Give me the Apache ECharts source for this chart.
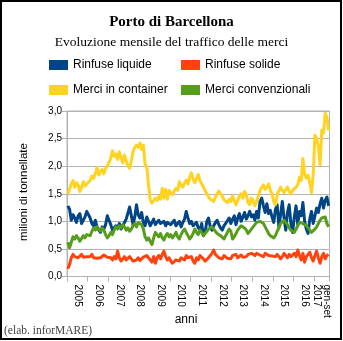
<!DOCTYPE html>
<html>
<head>
<meta charset="utf-8">
<script src="https://cdn.jsdelivr.net/npm/echarts@6/dist/echarts.min.js"></script>
<style>
  html, body { margin: 0; padding: 0; background: #fff; }
  #chart { width: 343px; height: 341px; }
</style>
</head>
<body>
<div id="chart"></div>
<script>
// Period labels on the x axis: one per calendar year, plus the partial 2017 (Jan-Sep)
const periodLabels = ['2005', '2006', '2007', '2008', '2009', '2010', '2011', '2012',
  '2013', '2014', '2015', '2016', 'gen-set\n2017'];
const monthsPerPeriod = [12, 12, 12, 12, 12, 12, 12, 12, 12, 12, 12, 12, 9];

// Monthly traffic, million tonnes
const rinfuseLiquide = [
  1.28, 1.22, 1.02, 1.12, 1.06, 0.98, 1.10, 1.14, 0.96, 0.94, 1.08, 1.18,
  1.16, 1.06, 0.96, 0.92, 1.02, 0.90, 0.84, 0.80, 0.90, 0.86, 0.94, 1.10,
  1.02, 0.94, 0.84, 0.82, 0.92, 0.88, 0.96, 0.86, 0.92, 0.98, 1.04, 1.02,
  1.26, 1.10, 0.94, 1.08, 1.30, 1.12, 1.06, 1.16, 0.98, 0.92, 1.08, 1.00,
  0.92, 0.98, 1.04, 0.94, 0.98, 1.02, 0.96, 0.94, 1.00, 0.92, 0.98, 0.96,
  0.94, 0.98, 1.02, 0.92, 0.96, 1.00, 0.90, 0.98, 1.04, 1.18, 1.06, 0.96,
  1.00, 0.92, 0.90, 0.98, 0.88, 0.84, 0.96, 0.74, 0.80, 1.00, 1.06, 0.90,
  0.84, 0.92, 0.98, 1.02, 0.94, 0.88, 0.84, 0.92, 0.96, 0.98, 1.06, 0.96,
  1.04, 1.10, 0.94, 1.06, 1.14, 1.00, 1.08, 1.16, 1.04, 1.10, 1.18, 1.08,
  1.12, 1.02, 1.18, 1.06, 1.36, 1.42, 1.28, 1.16, 1.32, 1.14, 1.20, 1.08,
  0.98, 1.22, 1.30, 0.90, 1.12, 1.36, 1.06, 0.84, 1.16, 1.30, 0.96, 0.80,
  1.08, 1.28, 0.94, 1.18, 1.10, 1.34, 1.00, 0.86, 0.78, 1.04, 1.18, 0.96,
  1.10, 1.24, 1.16, 1.32, 1.42, 1.24, 1.38, 1.44, 1.28
];

const rinfuseSolide = [
  0.14, 0.22, 0.34, 0.40, 0.36, 0.38, 0.34, 0.37, 0.40, 0.35, 0.33, 0.36,
  0.38, 0.36, 0.40, 0.34, 0.37, 0.33, 0.30, 0.34, 0.36, 0.39, 0.38, 0.35,
  0.38, 0.34, 0.30, 0.36, 0.32, 0.46, 0.34, 0.28, 0.32, 0.36, 0.30, 0.33,
  0.36, 0.32, 0.28, 0.26, 0.30, 0.34, 0.29, 0.31, 0.35, 0.33, 0.38, 0.34,
  0.30, 0.26, 0.36, 0.24, 0.34, 0.38, 0.32, 0.40, 0.46, 0.36, 0.30, 0.34,
  0.28, 0.24, 0.26, 0.30, 0.32, 0.28, 0.34, 0.36, 0.30, 0.38, 0.34, 0.32,
  0.36, 0.28, 0.24, 0.34, 0.30, 0.38, 0.36, 0.32, 0.28, 0.30, 0.34, 0.36,
  0.42, 0.48, 0.40, 0.38, 0.34, 0.36, 0.32, 0.38, 0.35, 0.33, 0.36, 0.32,
  0.38, 0.36, 0.40, 0.34, 0.37, 0.39, 0.35, 0.38, 0.36, 0.40, 0.38, 0.42,
  0.40, 0.38, 0.42, 0.44, 0.39, 0.41, 0.36, 0.42, 0.45, 0.38, 0.40, 0.37,
  0.34, 0.36, 0.40, 0.38, 0.32, 0.36, 0.42, 0.38, 0.34, 0.40, 0.36, 0.33,
  0.42, 0.36, 0.48, 0.38, 0.30, 0.42, 0.26, 0.36, 0.40, 0.44, 0.34, 0.28,
  0.38, 0.46, 0.34, 0.24, 0.36, 0.42, 0.32, 0.38, 0.40
];

const merciContainer = [
  1.50, 1.58, 1.68, 1.74, 1.62, 1.70, 1.66, 1.54, 1.62, 1.72, 1.64, 1.68,
  1.66, 1.74, 1.82, 1.78, 1.86, 1.98, 1.84, 1.90, 1.94, 1.86, 1.96, 2.00,
  1.98, 2.14, 2.28, 2.18, 2.22, 2.12, 2.26, 2.16, 2.06, 2.20, 2.10, 2.00,
  1.96, 2.10, 2.26, 2.34, 2.38, 2.34, 2.42, 2.30, 2.38, 2.04, 1.98, 1.66,
  1.40, 1.33, 1.36, 1.42, 1.38, 1.46, 1.40, 1.60, 1.42, 1.58, 1.40, 1.56,
  1.56, 1.48, 1.55, 1.60, 1.56, 1.72, 1.66, 1.62, 1.70, 1.75, 1.68, 1.80,
  1.88, 1.76, 1.70, 1.78, 1.85, 1.74, 1.68, 1.62, 1.56, 1.50, 1.44, 1.40,
  1.38, 1.36, 1.44, 1.50, 1.55, 1.52, 1.45, 1.39, 1.38, 1.34, 1.40, 1.36,
  1.46, 1.48, 1.30, 1.38, 1.46, 1.50, 1.42, 1.54, 1.48, 1.34, 1.30, 1.42,
  1.38, 1.28, 1.36, 1.46, 1.56, 1.62, 1.66, 1.58, 1.62, 1.68, 1.56, 1.50,
  1.36, 1.30, 1.48, 1.56, 1.62, 1.56, 1.52, 1.58, 1.62, 1.54, 1.50, 1.56,
  1.56, 1.62, 1.66, 1.80, 1.74, 2.14, 1.86, 1.78, 1.84, 1.70, 1.52, 1.84,
  2.56, 2.50, 2.36, 2.02, 2.65, 2.60, 2.96, 2.88, 2.65
];

const merciConvenzionali = [
  0.62, 0.52, 0.62, 0.72, 0.68, 0.74, 0.70, 0.64, 0.66, 0.74, 0.70, 0.76,
  0.78, 0.74, 0.82, 0.88, 0.84, 0.90, 0.86, 0.82, 0.88, 0.84, 0.76, 0.70,
  0.74, 0.80, 0.76, 0.84, 0.90, 0.86, 0.92, 0.88, 0.94, 0.90, 0.84, 0.88,
  0.82, 0.86, 0.92, 0.96, 0.90, 0.98, 1.00, 0.94, 0.86, 0.72, 0.66, 0.70,
  0.64, 0.58, 0.70, 0.80, 0.76, 0.72, 0.78, 0.70, 0.66, 0.74, 0.78, 0.72,
  0.76, 0.70, 0.74, 0.80, 0.72, 0.68, 0.76, 0.82, 0.86, 0.80, 0.74, 0.68,
  0.72, 0.78, 0.86, 0.80, 0.76, 0.84, 0.80, 0.74, 0.78, 0.82, 0.86, 0.84,
  0.90, 0.86, 0.84, 0.78, 0.80, 0.74, 0.72, 0.68, 0.74, 0.80, 0.86, 0.82,
  0.68, 0.72, 0.78, 0.84, 0.88, 0.92, 0.94, 0.88, 0.84, 0.78, 0.80, 0.86,
  0.90, 0.94, 0.98, 0.96, 1.00, 1.02, 0.96, 0.90, 0.84, 0.78, 0.74, 0.76,
  0.70, 0.74, 0.82, 0.88, 0.96, 0.98, 1.02, 0.98, 0.94, 0.88, 0.84, 0.86,
  0.80, 0.86, 0.92, 0.98, 1.00, 0.96, 0.98, 0.92, 0.88, 0.84, 0.80, 0.82,
  0.86, 0.90, 0.96, 1.02, 1.06, 1.04, 1.08, 0.96, 0.90
];

const seriesNames = ['Rinfuse liquide', 'Rinfuse solide', 'Merci in container', 'Merci convenzionali'];
const seriesColors = ['#004586', '#ff420e', '#ffd320', '#579d1c'];
const seriesData = [rinfuseLiquide, rinfuseSolide, merciContainer, merciConvenzionali];

// One category per month; period boundaries get a tick, the middle month of each period a label
const months = [];
const boundaryIdx = {};
const labelIdx = {};
periodLabels.forEach(function (lab, p) {
  const start = months.length;
  boundaryIdx[start] = true;
  labelIdx[start + Math.floor(monthsPerPeriod[p] / 2)] = lab;
  for (let m = 0; m < monthsPerPeriod[p]; m++) {
    months.push(lab.replace('\n', ' ') + '-' + (m + 1));
  }
});

const SANS = 'Liberation Sans, Arial, sans-serif';
const SERIF = 'Liberation Serif, Times New Roman, serif';
const GRIDC = '#b3b3b3';

const chart = echarts.init(document.getElementById('chart'), null, { renderer: 'canvas' });

chart.setOption({
  animation: false,
  backgroundColor: '#fff',
  title: [
    {
      text: 'Porto di Barcellona', left: 'center', top: 15, padding: 0,
      textStyle: { fontFamily: SERIF, fontWeight: 'bold', fontSize: 15, color: '#000' }
    },
    {
      text: 'Evoluzione mensile del traffico delle merci', left: 'center', top: 35, padding: 0,
      textStyle: { fontFamily: SERIF, fontWeight: 'normal', fontSize: 13.5, color: '#000' }
    }
  ],
  legend: [
    {
      data: [seriesNames[0], seriesNames[2]], orient: 'vertical', left: 49, top: 59,
      itemWidth: 19, itemHeight: 10, itemGap: 13, icon: 'rect', padding: 0, selectedMode: false,
      textStyle: { fontFamily: SANS, fontSize: 12, color: '#000' }
    },
    {
      data: [seriesNames[1], seriesNames[3]], orient: 'vertical', left: 181, top: 59,
      itemWidth: 19, itemHeight: 10, itemGap: 13, icon: 'rect', padding: 0, selectedMode: false,
      textStyle: { fontFamily: SANS, fontSize: 12, color: '#000' }
    }
  ],
  grid: {
    left: 67, right: 13.5, top: 111, bottom: 64.5,
    show: true, borderColor: GRIDC, borderWidth: 1, backgroundColor: 'transparent'
  },
  xAxis: {
    type: 'category',
    data: months,
    boundaryGap: true,
    axisLine: { show: true, lineStyle: { color: GRIDC, width: 1 } },
    axisTick: {
      show: true, length: 5,
      interval: function (i) { return !!boundaryIdx[i]; },
      lineStyle: { color: GRIDC }
    },
    axisLabel: {
      rotate: -90, margin: 8, fontSize: 10, fontFamily: SANS, color: '#000',
      interval: function (i) { return labelIdx[i] !== undefined; },
      formatter: function (v, i) { return labelIdx[i] || ''; }
    },
    splitLine: { show: false }
  },
  yAxis: {
    type: 'value', min: 0, max: 3, interval: 0.5,
    axisLine: { show: true, lineStyle: { color: GRIDC } },
    axisTick: { show: true, length: 5, lineStyle: { color: GRIDC } },
    splitLine: { show: true, lineStyle: { color: GRIDC, width: 1 } },
    axisLabel: {
      margin: 5, fontSize: 10, fontFamily: SANS, color: '#000',
      formatter: function (v) { return v.toFixed(1).replace('.', ','); }
    }
  },
  series: seriesNames.map(function (name, k) {
    return {
      name: name, type: 'line', data: seriesData[k],
      symbol: 'none', smooth: false, sampling: null,
      color: seriesColors[k],
      lineStyle: { color: seriesColors[k], width: 3, join: 'round' },
      emphasis: { disabled: true }
    };
  }),
  graphic: [
    {
      type: 'rect', silent: true, z: 100,
      shape: { x: 1, y: 1, width: 340, height: 338 },
      style: { fill: 'none', stroke: '#000', lineWidth: 2 }
    },
    {
      type: 'text', x: 186, y: 320, silent: true,
      style: { text: 'anni', fontFamily: SANS, fontSize: 12, fill: '#000', align: 'center', verticalAlign: 'middle' }
    },
    {
      type: 'text', x: 23.5, y: 192, rotation: Math.PI / 2, silent: true,
      style: { text: 'milioni di tonnellate', fontFamily: SANS, fontSize: 11.5, fill: '#000', align: 'center', verticalAlign: 'middle' }
    },
    {
      type: 'text', x: 4, y: 331, silent: true,
      style: { text: '(elab. inforMARE)', fontFamily: SERIF, fontSize: 11.5, fill: '#444', align: 'left', verticalAlign: 'middle' }
    }
  ]
});
</script>
</body>
</html>
